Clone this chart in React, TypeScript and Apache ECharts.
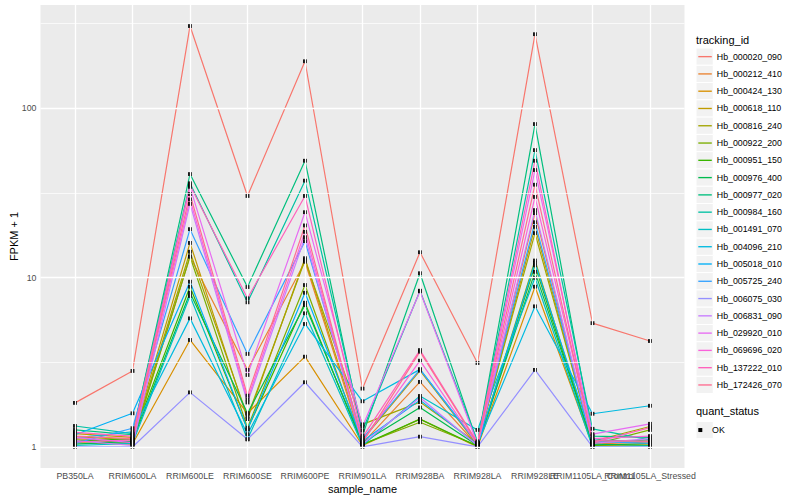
import React, { useEffect, useRef } from "react";
import * as echarts from "echarts";

// ---------- data ----------
const samples = [
  "PB350LA", "RRIM600LA", "RRIM600LE", "RRIM600SE", "RRIM600PE", "RRIM901LA",
  "RRIM928BA", "RRIM928LA", "RRIM928LE", "RRIM1105LA_Control", "RRIM1105LA_Stressed",
];

const trackingIds = [
  "Hb_000020_090", "Hb_000212_410", "Hb_000424_130", "Hb_000618_110", "Hb_000816_240",
  "Hb_000922_200", "Hb_000951_150", "Hb_000976_400", "Hb_000977_020", "Hb_000984_160",
  "Hb_001491_070", "Hb_004096_210", "Hb_005018_010", "Hb_005725_240", "Hb_006075_030",
  "Hb_006831_090", "Hb_029920_010", "Hb_069696_020", "Hb_137222_010", "Hb_172426_070",
];

// FPKM + 1, one value per sample (order of `samples`)
const hb_000020_090 = [1.82, 2.81, 305, 30.3, 189, 2.21, 14.1, 3.13, 273, 5.38, 4.22];
const hb_000212_410 = [1.12, 1.08, 13.3, 2.85, 12.4, 1.05, 2.42, 1.02, 24.0, 1.04, 1.07];
const hb_000424_130 = [1.06, 1.04, 4.28, 1.58, 3.41, 1.02, 1.46, 1.0, 8.83, 1.02, 1.03];
const hb_000618_110 = [1.2, 1.14, 16.0, 1.46, 13.0, 1.1, 2.82, 1.03, 19.9, 1.06, 1.1];
const hb_000816_240 = [1.15, 1.1, 14.2, 1.51, 12.7, 1.36, 1.84, 1.05, 18.3, 1.08, 1.32];
const hb_000922_200 = [1.1, 1.06, 13.3, 1.3, 9.03, 1.04, 1.4, 1.02, 12.6, 1.03, 1.26];
const hb_000951_150 = [1.08, 1.12, 8.83, 1.27, 7.1, 1.03, 1.46, 1.01, 11.8, 1.02, 1.05];
const hb_000976_400 = [1.04, 1.08, 8.13, 1.58, 6.88, 1.06, 1.71, 1.02, 10.8, 1.04, 1.02];
const hb_000977_020 = [1.26, 1.18, 40.8, 8.79, 48.9, 1.17, 10.6, 1.06, 80.5, 1.16, 1.14];
const hb_000984_160 = [1.33, 1.2, 36.0, 7.14, 37.3, 1.25, 8.36, 1.08, 56.5, 1.28, 1.1];
const hb_001491_070 = [1.02, 1.05, 7.78, 1.11, 6.15, 1.02, 2.0, 1.26, 9.97, 1.0, 1.01];
const hb_004096_210 = [1.13, 1.23, 5.74, 1.19, 5.32, 1.86, 2.87, 1.04, 6.76, 1.57, 1.75];
const hb_005018_010 = [1.18, 1.58, 9.45, 1.27, 8.13, 1.08, 1.89, 1.03, 12.2, 1.1, 1.08];
const hb_005725_240 = [1.05, 1.29, 19.3, 3.54, 16.4, 1.12, 2.87, 1.05, 21.2, 1.08, 1.05];
const hb_006075_030 = [1.0, 1.0, 2.1, 1.11, 2.41, 1.0, 1.15, 1.0, 2.85, 1.0, 1.0];
const hb_006831_090 = [1.09, 1.02, 27.2, 1.83, 17.3, 1.04, 1.96, 1.02, 25.0, 1.05, 1.12];
const hb_029920_010 = [1.14, 1.06, 34.3, 2.66, 24.3, 1.32, 8.3, 1.04, 43.1, 1.19, 1.37];
const hb_069696_020 = [1.07, 1.1, 28.9, 1.91, 18.6, 1.08, 3.23, 1.03, 29.9, 1.12, 1.16];
const hb_137222_010 = [1.22, 1.16, 35.0, 7.54, 30.3, 1.14, 3.73, 1.06, 48.9, 1.06, 1.3];
const hb_172426_070 = [1.16, 1.12, 31.1, 2.01, 20.3, 1.06, 3.65, 1.05, 35.3, 1.09, 1.08];

const seriesValues = [
  hb_000020_090, hb_000212_410, hb_000424_130, hb_000618_110, hb_000816_240,
  hb_000922_200, hb_000951_150, hb_000976_400, hb_000977_020, hb_000984_160,
  hb_001491_070, hb_004096_210, hb_005018_010, hb_005725_240, hb_006075_030,
  hb_006831_090, hb_029920_010, hb_069696_020, hb_137222_010, hb_172426_070,
];

const quantStatus = ["OK"];
const yTickLabels = [1, 10, 100];
const yMinorBreaks = [3.1623, 31.623, 316.23];

// ---------- styles ----------
const palette = [
  "#F8766D", "#EA8331", "#D89000", "#C09B00", "#A3A500", "#7CAE00", "#39B600",
  "#00BB4E", "#00BF7D", "#00C1A3", "#00BFC4", "#00BAE0", "#00B0F6", "#35A2FF",
  "#9590FF", "#C77CFF", "#E76BF3", "#FA62DB", "#FF62BC", "#FF6C91",
];
const FONT = "'Liberation Sans', Arial, Helvetica, sans-serif";
const KEY = 17.28;

export default function App() {
  const ref = useRef<HTMLDivElement>(null);

  useEffect(() => {
    if (!ref.current) return;
    const chart = echarts.init(ref.current, null, { renderer: "svg" });

    const logs = seriesValues.flat().map((v) => Math.log10(v));
    const lo = Math.min(...logs);
    const hi = Math.max(...logs);
    const pad = (hi - lo) * 0.05;
    const xIdx = samples.map((_, i) => i);
    // the two long neighbouring labels overlap (as in the reference); draw the
    // second-to-last one on a twin axis so that ECharts does not drop it
    const twinIdx = [samples.length - 2];
    const mainIdx = xIdx.filter((i) => !twinIdx.includes(i));
    const yMajor = yTickLabels.map((v) => Math.log10(v));

    const major = { color: "#FFFFFF", width: 1.3, type: "solid" as const };
    const minor = { color: "#FFFFFF", width: 0.7, type: "solid" as const };

    const gridSeries = {
      type: "line",
      name: "__grid",
      data: [],
      z: 1,
      silent: true,
      markLine: {
        silent: true,
        symbol: "none",
        animation: false,
        label: { show: false },
        emphasis: { disabled: true },
        data: [
          ...yMinorBreaks.map((v) => ({ yAxis: Math.log10(v), lineStyle: minor })),
          ...yMajor.map((v) => ({ yAxis: v, lineStyle: major })),
          ...xIdx.map((i) => ({ xAxis: i, lineStyle: major })),
        ],
      },
    };

    const lineSeries = trackingIds.map((id, k) => ({
      type: "line",
      name: id,
      data: seriesValues[k].map((v, i) => [i, Math.log10(v)]),
      symbol: "none",
      z: 2,
      silent: true,
      lineStyle: { color: palette[k], width: 1.2 },
      itemStyle: { color: palette[k] },
      emphasis: { disabled: true },
    }));

    const points: number[][] = [];
    seriesValues.forEach((vals) => vals.forEach((v, i) => points.push([i, Math.log10(v)])));
    const pointSeries = {
      type: "scatter",
      name: quantStatus[0],
      data: points,
      symbol: "rect",
      symbolSize: 3.8,
      z: 3,
      silent: true,
      itemStyle: { color: "#000000", borderWidth: 0, opacity: 1 },
      emphasis: { disabled: true },
    };

    const keyRects: any[] = [];
    trackingIds.forEach((_, k) => {
      keyRects.push({
        type: "rect",
        z: 1,
        shape: { x: 696, y: 48 + k * KEY, width: KEY, height: KEY },
        style: { fill: "#F2F2F2", stroke: "#FFFFFF", lineWidth: 1 },
      });
    });
    keyRects.push({
      type: "rect",
      z: 1,
      shape: { x: 696, y: 421.4, width: KEY, height: KEY },
      style: { fill: "#F2F2F2", stroke: "#FFFFFF", lineWidth: 1 },
    });

    const xLabelStyle = {
      formatter: (v: number) => samples[Math.round(v)] ?? "",
      color: "#4D4D4D",
      fontSize: 8.8,
      margin: 3.5,
      hideOverlap: false,
      showMinLabel: true,
      showMaxLabel: true,
      fontFamily: FONT,
    };

    chart.setOption({
      animation: false,
      backgroundColor: "#FFFFFF",
      textStyle: { fontFamily: FONT },
      title: [
        {
          text: "tracking_id",
          left: 696,
          top: 34,
          padding: 0,
          textStyle: { fontSize: 11, fontWeight: "normal", color: "#000000", fontFamily: FONT },
        },
        {
          text: "quant_status",
          left: 696,
          top: 405.5,
          padding: 0,
          textStyle: { fontSize: 11, fontWeight: "normal", color: "#000000", fontFamily: FONT },
        },
      ],
      grid: {
        left: 40.5,
        right: 115.5,
        top: 5,
        bottom: 32,
        show: true,
        backgroundColor: "#EBEBEB",
        borderWidth: 0,
        containLabel: false,
        outerBoundsMode: "none",
      },
      xAxis: [
        {
          type: "value",
          position: "bottom",
          min: -0.6,
          max: samples.length - 1 + 0.6,
          axisLine: { show: false },
          splitLine: { show: false },
          axisTick: {
            show: true,
            customValues: xIdx,
            length: 2.75,
            lineStyle: { color: "#333333", width: 1 },
          },
          axisLabel: { ...xLabelStyle, customValues: mainIdx },
          name: "sample_name",
          nameLocation: "middle",
          nameGap: 15,
          nameMoveOverlap: false,
          nameTextStyle: { color: "#000000", fontSize: 11, fontFamily: FONT },
        },
        {
          type: "value",
          position: "bottom",
          offset: 0,
          min: -0.6,
          max: samples.length - 1 + 0.6,
          axisLine: { show: false },
          splitLine: { show: false },
          axisTick: { show: false, customValues: twinIdx },
          axisLabel: { ...xLabelStyle, customValues: twinIdx },
        },
      ],
      yAxis: {
        type: "value",
        min: lo - pad,
        max: hi + pad,
        axisLine: { show: false },
        splitLine: { show: false },
        axisTick: {
          show: true,
          customValues: yMajor,
          length: 2.75,
          lineStyle: { color: "#333333", width: 1 },
        },
        axisLabel: {
          customValues: yMajor,
          formatter: (v: number) => String(Math.round(Math.pow(10, v))),
          color: "#4D4D4D",
          fontSize: 8.8,
          margin: 4,
          hideOverlap: false,
          fontFamily: FONT,
        },
        name: "FPKM + 1",
        nameLocation: "middle",
        nameGap: 21,
        nameMoveOverlap: false,
        nameTextStyle: { color: "#000000", fontSize: 11, fontFamily: FONT },
      },
      legend: [
        {
          data: trackingIds,
          orient: "vertical",
          left: 698.3,
          top: 48,
          padding: 0,
          itemWidth: 13.5,
          itemHeight: KEY,
          itemGap: 0,
          icon: "path://M0,0h10v1h-10z",
          selectedMode: false,
          z: 5,
          textStyle: { fontSize: 8.8, color: "#000000", fontFamily: FONT, lineHeight: KEY, height: KEY },
        },
        {
          data: quantStatus,
          orient: "vertical",
          left: 698.3,
          top: 421.4,
          padding: 0,
          itemWidth: 13.5,
          itemHeight: 4,
          itemGap: 0,
          icon: "path://M0,0h1v1h-1z",
          selectedMode: false,
          z: 5,
          textStyle: { fontSize: 8.8, color: "#000000", fontFamily: FONT, lineHeight: KEY, height: KEY },
        },
      ],
      graphic: keyRects,
      series: [gridSeries, ...lineSeries, pointSeries],
    });

    return () => chart.dispose();
  }, []);

  return (
    <div
      ref={ref}
      style={{ position: "fixed", left: 0, top: 0, width: 800, height: 500, background: "#fff" }}
    />
  );
}
